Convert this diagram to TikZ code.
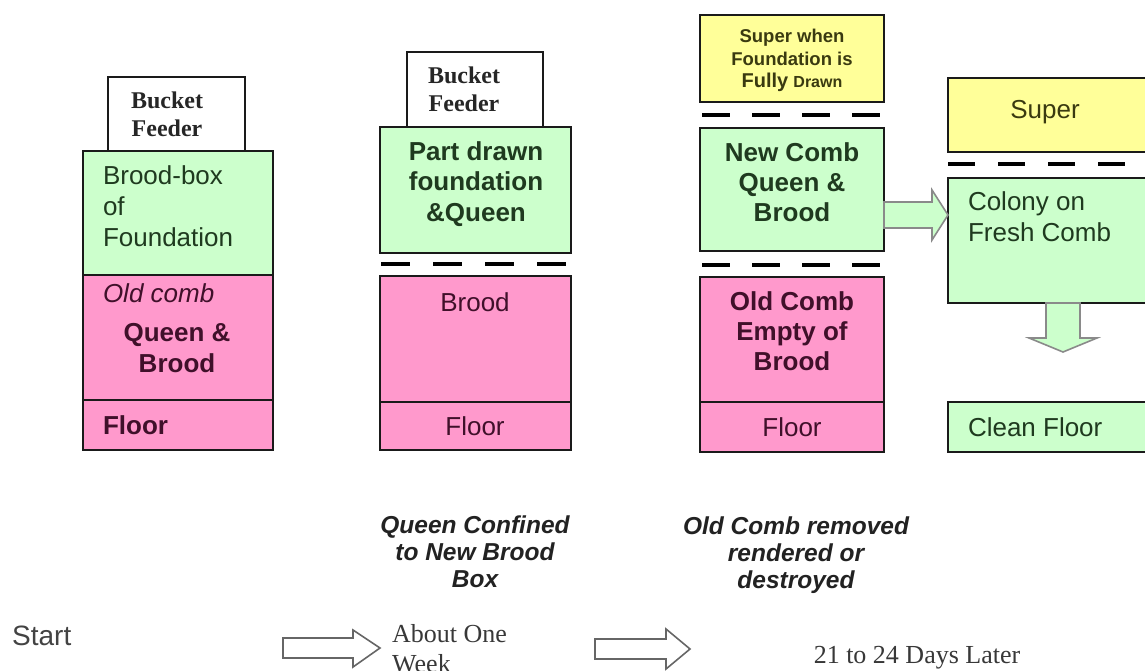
\documentclass[tikz,border=0pt]{standalone}
\usepackage{fontspec}
\setmainfont{Liberation Sans}
\newfontfamily\tms{Liberation Serif}
\usetikzlibrary{calc}
\definecolor{gfill}{HTML}{CCFFCC}
\definecolor{pfill}{HTML}{FF99CC}
\definecolor{yfill}{HTML}{FFFF99}
\definecolor{gtext}{HTML}{1F3A1F}
\definecolor{ptext}{HTML}{40102A}
\definecolor{ytext}{HTML}{3A3A10}
\definecolor{edge}{HTML}{1A1A1A}
\definecolor{agray}{HTML}{8A8A8A}
\definecolor{btext}{HTML}{222222}
\newcommand\hivebox[6]{\node[#6, minimum width={#4-#2}, minimum height={#5-#3}] (#1) at (#2,#3) {};}
\tikzset{
  hive/.style={draw=edge, line width=2.8pt, anchor=north west, inner sep=0pt, outer sep=0pt},
  wbox/.style={hive, fill=white},
  gbox/.style={hive, fill=gfill},
  pbox/.style={hive, fill=pfill},
  ybox/.style={hive, fill=yfill},
  sepline/.style={draw=black, line width=4.5pt},
  bt/.style={inner sep=0pt, outer sep=0pt, font=\fontsize{26}{31}\selectfont},
  gt/.style={bt, text=gtext},
  pt/.style={bt, text=ptext},
  feedtxt/.style={inner sep=0pt, align=center, text=black!85, font=\tms\bfseries\fontsize{24}{28}\selectfont},
  notetxt/.style={inner sep=0pt, align=center, text=btext, font=\bfseries\itshape\fontsize{24.5}{27}\selectfont},
  timetxt/.style={inner sep=0pt, align=left, text=btext!90, font=\tms\fontsize{26}{30}\selectfont},
  greenarrow/.style={draw=agray, line width=1.6pt, fill=gfill, line join=miter},
  whitearrow/.style={draw=black!60, line width=1.6pt, fill=white, line join=miter},
}
\begin{document}
\begin{tikzpicture}[x=1pt,y=-1pt]
\useasboundingbox (0,0) rectangle (1145,671);
\clip (0,0) rectangle (1145,671);

% column 1
\hivebox{feed1}{108}{77}{245}{151}{wbox}
\hivebox{green1}{83}{151}{273}{275}{gbox}
\hivebox{pink1}{83}{275}{273}{400}{pbox}
\hivebox{floor1}{83}{400}{273}{450}{pbox}
\node[feedtxt, anchor=base] (feedt1) at (167,137) {Bucket\\Feeder};
\node[gt, anchor=base west, align=left] (greent1) at (103,246) {Brood-box\\of\\Foundation};
\node[pt, anchor=base west, font=\itshape\fontsize{26}{31}\selectfont] (oldc1) at (103,302) {Old comb};
\node[pt, anchor=base, font=\bfseries\fontsize{26}{31}\selectfont] (queen1) at (177,341) {Queen \&};
\node[pt, anchor=base, font=\bfseries\fontsize{26}{31}\selectfont] (brood1) at (177,372) {Brood};
\node[pt, anchor=west, font=\bfseries\fontsize{26}{31}\selectfont] (floort1) at (103,425) {Floor};

% column 2
\hivebox{feed2}{407}{52}{543}{127}{wbox}
\hivebox{green2}{380}{127}{571}{253}{gbox}
\hivebox{pink2}{380}{276}{571}{402}{pbox}
\hivebox{floor2}{380}{402}{571}{450}{pbox}
\draw[sepline, dash pattern=on 29pt off 23pt] (381,264) coordinate (s2a) -- (568,264) coordinate (s2b);
\node[feedtxt, anchor=base] (feedt2) at (464,112) {Bucket\\Feeder};
\node[gt, anchor=base, align=center, font=\bfseries\fontsize{26}{31}\selectfont] (greent2) at (476,222) {Part drawn\\foundation\\\&Queen};
\node[pt, anchor=base] (broodt2) at (475,311) {Brood};
\node[pt, anchor=center] (floort2) at (475,426) {Floor};

% column 3
\hivebox{super3}{700}{15}{884}{102}{ybox}
\hivebox{green3}{700}{128}{884}{251}{gbox}
\hivebox{pink3}{700}{277}{884}{402}{pbox}
\hivebox{floor3}{700}{402}{884}{452}{pbox}
\draw[sepline, dash pattern=on 28pt off 22pt] (702,115) coordinate (s3a) -- (882,115) coordinate (s3b);
\draw[sepline, dash pattern=on 28pt off 22pt] (702,265) coordinate (s3c) -- (882,265) coordinate (s3d);
\node[inner sep=0pt, anchor=base, align=center, text=ytext, font=\bfseries\fontsize{18.5}{22.5}\selectfont] (supert3) at (792,88) {Super when\\Foundation is\\{\fontsize{20}{22.5}\selectfont Fully} {\fontsize{16}{22.5}\selectfont Drawn}};
\node[gt, anchor=base, align=center, font=\bfseries\fontsize{26}{30}\selectfont] (greent3) at (792,222) {New Comb\\Queen \&\\Brood};
\node[pt, anchor=base, align=center, font=\bfseries\fontsize{26}{30}\selectfont] (pinkt3) at (792,370) {Old Comb\\Empty of\\Brood};
\node[pt, anchor=center] (floort3) at (792,427) {Floor};

% column 4
\hivebox{super4}{948}{78}{1170}{152}{ybox}
\hivebox{green4}{948}{178}{1170}{303}{gbox}
\hivebox{floor4}{948}{402}{1170}{452}{gbox}
\draw[sepline, dash pattern=on 27pt off 23pt] (948,164) coordinate (s4a) -- (1145,164) coordinate (s4b);
\node[bt, text=ytext, anchor=base] (supert4) at (1045,119) {Super};
\node[gt, anchor=base west, align=left] (greent4) at (968,241) {Colony on\\Fresh Comb};
\node[gt, anchor=west] (floort4) at (968,427) {Clean Floor};

% block arrows between the last two hives
\coordinate (ra0) at (green3.east |- 0,215);
\coordinate (ra1) at (green4.west |- 0,215);
\draw[greenarrow] ($(ra0)+(0,-13)$) -- ($(ra1)+(-16,-13)$) -- ($(ra1)+(-16,-25)$) -- (ra1)
  -- ($(ra1)+(-16,25)$) -- ($(ra1)+(-16,13)$) -- ($(ra0)+(0,13)$) -- cycle;
\coordinate (da0) at (green4.south -| 1063,0);
\coordinate (da1) at (1063,352);
\draw[greenarrow] ($(da0)+(-17,0)$) -- ($(da1)+(-17,-14)$) -- ($(da1)+(-34,-14)$) -- (da1)
  -- ($(da1)+(34,-14)$) -- ($(da1)+(17,-14)$) -- ($(da0)+(17,0)$) -- cycle;

% notes
\node[notetxt, anchor=base] (note2) at (475,587) {Queen Confined\\to New Brood\\Box};
\node[notetxt, anchor=base] (note3) at (796,588) {Old Comb removed\\rendered or\\destroyed};

% timeline
\node[inner sep=0pt, anchor=base west, text=btext!85, font=\fontsize{28}{32}\selectfont] (start) at (12,645) {Start};
\node[timetxt, anchor=base west] (week) at (392,672) {About One\\Week};
\node[timetxt, anchor=base] (later) at (917,663) {21 to 24 Days Later};
\coordinate (a1tip) at (380,648);
\draw[whitearrow] (283,638) -- (353,638) -- (353,630) -- (a1tip) -- (353,667) -- (353,658) -- (283,658) -- cycle;
\coordinate (a2tip) at (690,649);
\draw[whitearrow] (595,639) -- (666,639) -- (666,629) -- (a2tip) -- (666,669) -- (666,659) -- (595,659) -- cycle;
\end{tikzpicture}
\end{document}
